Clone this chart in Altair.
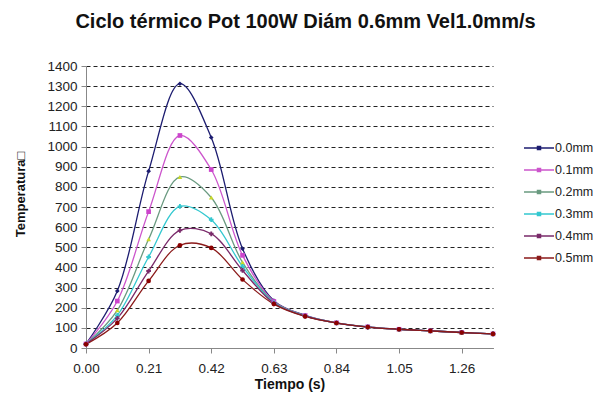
import altair as alt
import pandas as pd

times = [0.0, 0.105, 0.21, 0.315, 0.42, 0.525, 0.63, 0.735, 0.84, 0.945, 1.05, 1.155, 1.26, 1.365]
series_names = ["0.0mm", "0.1mm", "0.2mm", "0.3mm", "0.4mm", "0.5mm"]
s00 = [20, 283, 878, 1312, 1045, 493, 235, 162, 125, 105, 93, 85, 77, 70]
s01 = [20, 233, 677, 1055, 886, 460, 231, 161, 125, 105, 93, 85, 77, 70]
s02 = [20, 187, 540, 849, 747, 425, 228, 160, 125, 105, 93, 85, 77, 70]
s03 = [20, 162, 452, 703, 637, 405, 225, 159, 124, 104, 93, 85, 77, 70]
s04 = [20, 147, 382, 584, 567, 385, 222, 158, 124, 104, 93, 85, 77, 70]
s05 = [18, 124, 333, 510, 497, 340, 218, 157, 124, 104, 93, 85, 77, 70]
x_ticks = [0.0, 0.21, 0.42, 0.63, 0.84, 1.05, 1.26]
y_ticks = list(range(0, 1401, 100))

line_colors = ["#1c1c70", "#cc55cc", "#6a9a80", "#33c8d0", "#7a2a6a", "#8b1a1a"]
marker_colors = ["#1c1c70", "#cc44cc", "#c8d828", "#33c8d0", "#7a2a6a", "#8b0000"]
marker_shapes = ["diamond", "square", "triangle-up", "cross", "cross", "circle"]

rows = []
for name, vals in zip(series_names, [s00, s01, s02, s03, s04, s05]):
    for t, v in zip(times, vals):
        rows.append({"Tiempo": t, "Temp": v, "Serie": name})
df = pd.DataFrame(rows)

FONT = "Liberation Sans"

x_enc = alt.X(
    "Tiempo:Q",
    scale=alt.Scale(domain=[0, 1.365], nice=False, zero=False),
    axis=alt.Axis(
        values=x_ticks, format=".2f", title="Tiempo (s)", grid=False,
        labelFontSize=13.5, labelFont=FONT, labelColor="#222", labelFlush=False,
        labelOverlap=False,
        titleFont=FONT, titleFontSize=14, titleFontWeight="bold", titleColor="#111",
        tickSize=5, labelPadding=8, titlePadding=3,
        domainColor="#888", tickColor="#888",
    ),
)
y_enc = alt.Y(
    "Temp:Q",
    scale=alt.Scale(domain=[0, 1400], nice=False),
    axis=alt.Axis(
        values=y_ticks, format="d", title="Temperatura\u25a1", grid=True,
        gridColor="#222", gridDash=[4, 3], gridWidth=1,
        labelFontSize=13.5, labelFont=FONT, labelColor="#222",
        labelOverlap=False, labelFlush=False,
        titleFont=FONT, titleFontSize=13, titleFontWeight="bold", titleColor="#111",
        titleX=-66, titleY=128, titleBaseline="middle", titleAlign="center",
        tickSize=5, labelPadding=4,
        domainColor="#888", tickColor="#888",
    ),
)

lines = alt.Chart(df).mark_line(interpolate="catmull-rom", strokeWidth=1.3).encode(
    x=x_enc,
    y=y_enc,
    color=alt.Color(
        "Serie:N",
        scale=alt.Scale(domain=series_names, range=line_colors),
        legend=alt.Legend(
            title=None, orient="none", legendX=442, legendY=71,
            symbolType="M-1.5,0H1.5M-0.15,-0.15H0.15V0.15H-0.15Z",
            symbolSize=400, symbolStrokeWidth=1.5,
            labelFont=FONT, labelFontSize=12.5, labelColor="#222",
            labelOffset=5, rowPadding=4, padding=0, labelLimit=60,
        ),
    ),
)

point_layers = []
for name, col, shp in zip(series_names, marker_colors, marker_shapes):
    point_layers.append(
        alt.Chart(df)
        .transform_filter(alt.datum.Serie == name)
        .mark_point(filled=True, size=22, opacity=1, color=col, shape=shp)
        .encode(x=x_enc, y=y_enc)
    )

chart = (
    alt.layer(lines, *point_layers)
    .properties(
        width=407,
        height=282,
        autosize=alt.AutoSizeParams(type="none"),
        padding={"left": 78, "top": 58, "right": 104, "bottom": 46},
        title=alt.TitleParams(
            "Ciclo térmico Pot 100W Diám 0.6mm Vel1.0mm/s",
            font=FONT, fontSize=20, fontWeight="bold", color="#111",
            anchor="middle", offset=27, dx=16,
        ),
        background="white",
    )
    .configure_view(stroke=None)
)

chart.save("out.html", embed_options={"renderer": "svg", "actions": False})
